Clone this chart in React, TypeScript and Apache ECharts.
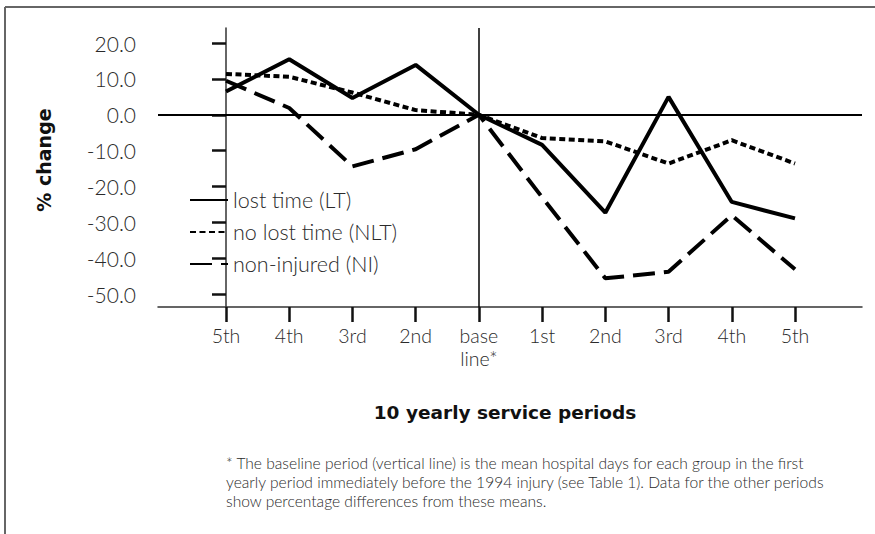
import React, { useEffect, useRef } from 'react';
import * as echarts from 'echarts';

const categories = ['5th', '4th', '3rd', '2nd', 'base\nline*', '1st', '2nd', '3rd', '4th', '5th'];
const lostTime = [6.5, 15.5, 4.7, 13.9, 0, -8.4, -27.3, 5.0, -24.3, -28.9];
const noLostTime = [11.4, 10.6, 6.2, 1.3, 0, -6.5, -7.4, -13.6, -7.1, -13.6];
const nonInjured = [9.5, 1.9, -14.4, -9.6, 0, -23.0, -45.6, -43.8, -28.0, -43.1];
const yTicks = [-50, -40, -30, -20, -10, 0, 10, 20];
const xTicks = categories.map((_, i) => i);
const seriesNames = ['lost time (LT)', 'no lost time (NLT)', 'non-injured (NI)'];
const yTitle = '% change';
const xTitle = '10 yearly service periods';
const footnote = [
  '* The baseline period (vertical line) is the mean hospital days for each group in the first',
  'yearly period immediately before the 1994 injury (see Table 1). Data for the other periods',
  'show percentage differences from these means.',
];

const LIGHT = 'Lato';
const BOLD = 'DejaVu Sans';

export default function App() {
  const ref = useRef<HTMLDivElement>(null);
  useEffect(() => {
    const chart = echarts.init(ref.current!, null, { renderer: 'svg' });
    const toPairs = (arr: number[]) => arr.map((v, i) => [i, v]);
    const option: any = {
      animation: false,
      backgroundColor: '#fff',
      grid: { left: 158, right: 13, top: 28, bottom: 227, containLabel: false },
      xAxis: {
        type: 'value',
        min: -1.0755,
        max: 10.06,
        axisLine: { show: true, onZero: false, lineStyle: { color: '#333', width: 1.5 } },
        axisTick: { show: true, customValues: xTicks, length: 15, lineStyle: { color: '#111', width: 2.5 } },
        axisLabel: {
          customValues: xTicks,
          formatter: (v: number) => categories[Math.round(v)],
          margin: 17,
          fontFamily: LIGHT,
          fontWeight: 300,
          fontSize: 19.5,
          lineHeight: 23,
          color: '#2a2a2a',
        },
        splitLine: { show: false },
      },
      yAxis: {
        type: 'value',
        min: -53.6,
        max: 24.2,
        axisLine: { show: true, lineStyle: { color: '#333', width: 1.5 } },
        axisTick: { show: true, customValues: yTicks, length: 14, lineStyle: { color: '#111', width: 2.5 } },
        axisLabel: {
          customValues: yTicks,
          formatter: (v: number) => v.toFixed(1),
          margin: 22,
          fontFamily: LIGHT,
          fontWeight: 300,
          fontSize: 21,
          color: '#2a2a2a',
        },
        splitLine: { show: false },
      },
      legend: {
        orient: 'vertical',
        left: 189,
        top: 189,
        itemWidth: 38,
        itemHeight: 14,
        itemGap: 10,
        padding: 0,
        textStyle: { fontFamily: LIGHT, fontWeight: 300, fontSize: 21.5, lineHeight: 21, color: '#2a2a2a' },
        itemStyle: { opacity: 0 },
        lineStyle: { width: 2 },
        data: seriesNames,
      },
      series: [
        {
          name: seriesNames[0],
          type: 'line',
          symbol: 'none',
          data: toPairs(lostTime),
          lineStyle: { color: '#000', width: 4, type: 'solid' },
          itemStyle: { color: '#000' },
          z: 3,
          markLine: {
            silent: true,
            symbol: 'none',
            label: { show: false },
            data: [
              { yAxis: 0, lineStyle: { color: '#000', width: 2, type: 'solid' } },
              { xAxis: 4, lineStyle: { color: '#000', width: 1.5, type: 'solid' } },
            ],
          },
        },
        {
          name: seriesNames[1],
          type: 'line',
          symbol: 'none',
          data: toPairs(noLostTime),
          lineStyle: { color: '#000', width: 4, type: [6, 3.5] },
          itemStyle: { color: '#000' },
          z: 2,
        },
        {
          name: seriesNames[2],
          type: 'line',
          symbol: 'none',
          data: toPairs(nonInjured),
          lineStyle: { color: '#000', width: 4, type: [22, 9] },
          itemStyle: { color: '#000' },
          z: 2,
        },
      ],
      graphic: [
        { type: 'line', shape: { x1: 5, y1: 7, x2: 875, y2: 7 }, style: { stroke: '#666', lineWidth: 2 } },
        { type: 'line', shape: { x1: 5, y1: 7, x2: 5, y2: 534 }, style: { stroke: '#666', lineWidth: 2 } },
        {
          type: 'text',
          x: 44,
          y: 160,
          rotation: Math.PI / 2,
          style: {
            text: yTitle,
            fontFamily: BOLD,
            fontWeight: 'bold',
            fontSize: 19,
            fill: '#111',
            textAlign: 'center',
            textVerticalAlign: 'middle',
          },
        },
        {
          type: 'text',
          x: 505,
          y: 412,
          style: {
            text: xTitle,
            fontFamily: BOLD,
            fontWeight: 'bold',
            fontSize: 18.5,
            fill: '#111',
            textAlign: 'center',
            textVerticalAlign: 'middle',
          },
        },
        {
          type: 'text',
          x: 226,
          y: 453,
          style: {
            text: footnote.join('\n'),
            fontFamily: LIGHT,
            fontWeight: 300,
            fontSize: 15.6,
            lineHeight: 19.3,
            fill: '#2a2a2a',
            textAlign: 'left',
            textVerticalAlign: 'top',
          },
        },
      ],
    };
    chart.setOption(option);
    return () => chart.dispose();
  }, []);
  return <div ref={ref} style={{ position: 'absolute', left: 0, top: 0, width: 875, height: 534 }} />;
}
